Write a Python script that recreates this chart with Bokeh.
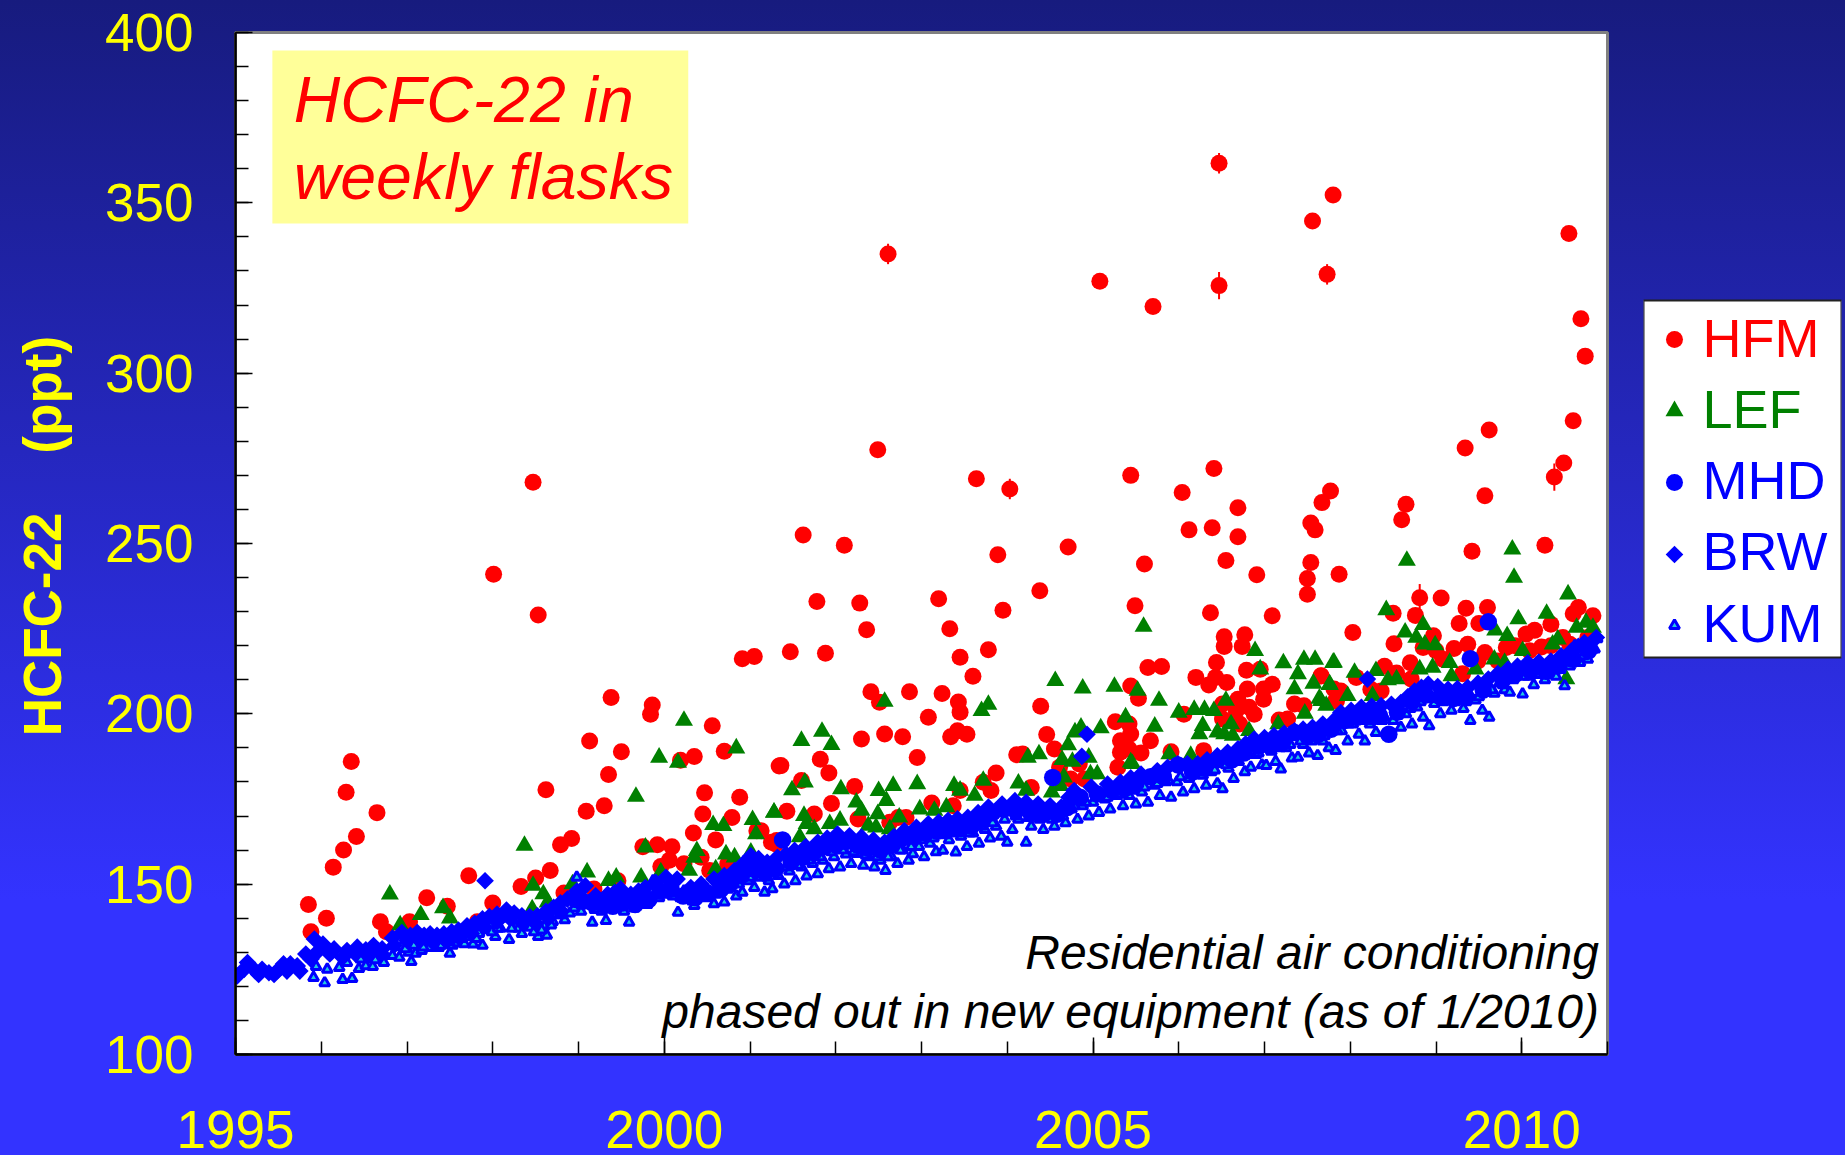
from math import pi
from bokeh.plotting import figure
from bokeh.embed import file_html
from bokeh.resources import INLINE
from bokeh.layouts import row
from bokeh.models import Range1d, FixedTicker, BoxAnnotation, Label, ColumnDataSource
from bokeh.core.properties import value

FONT = "Liberation Sans"
y_ticks = [100, 150, 200, 250, 300, 350, 400]
x_ticks = [1995, 2000, 2005, 2010]
y_title = "\u00a0HCFC-22\u00a0\u00a0\u00a0\u00a0(ppt)"
box_lines = ["HCFC-22 in", "weekly flasks"]
note_lines = ["Residential air conditioning", "phased out in new equipment (as of 1/2010)"]
legend_names = ["HFM", "LEF", "MHD", "BRW", "KUM"]

hfm = [(1995.85,144),(1995.88,136),(1996.06,140),(1996.14,155),(1996.26,160),(1996.29,177),(1996.35,186),(1996.41,164),
(1996.65,171),(1996.69,139),(1996.76,136),(1997.03,139),(1997.23,146),(1997.47,143.5),(1997.72,152.5),(1997.82,139),
(1998.01,241),(1998.47,268),(1998.53,229),(1998.0,144.5),(1998.33,149.3),(1998.5,151.8),(1998.62,177.7),(1998.67,154),
(1998.79,161.6),(1998.92,163.4),(1998.83,147.4),(1999.09,171.4),(1999.13,192),(1999.3,173),(1999.35,182.2),(1999.38,204.8),
(1999.5,188.9),(1999.18,148.6),(1999.46,151),(1999.75,161),(1999.92,161.6),(2000.09,161),(1999.84,199.9),(1999.86,202.6),
(2000.06,157),(1999.96,155.2),(2000.19,186.4),(2000.35,187.5),(2000.34,165),(2000.23,156),(2000.43,157.9),(2000.45,170.6),
(2000.47,176.8),(2000.56,196.5),(2000.6,163),(2000.7,189),(2000.79,169.6),(2000.88,175.5),(2000.53,154),(2001.05,216.8),
(2000.91,216.2),(2001.34,184.7),(2001.08,165.7),(2001.3,161.8),(2000.74,155.9),
(2001.78,233),(2002.28,232.5),(2002.36,224.7),(2001.47,218.2),(2001.88,217.8),(2001.36,184.8),(2001.82,186.7),(2001.92,182.6),
(2001.6,180.4),(2002.22,178.7),(2001.95,173.7),(2001.43,171.4),(2001.75,170.6),(2001.25,162.3),(2002.26,169.1),(2002.41,206.5),
(2002.51,203.4),(2002.3,192.6),(2002.57,194.1),(2002.78,193.3),(2002.95,187.2),(2002.86,206.5),(2003.08,199),(2003.2,233.8),
(2003.33,225),(2003.45,216.6),(2003.6,211),(2003.24,206),(2003.43,203.5),(2003.45,200.5),(2003.34,193.3),(2003.42,195),
(2003.53,194),(2003.78,218.8),(2003.95,230.4),(2004.38,236.1),(2004.39,202.2),(2004.46,193.9),(2004.55,189.7),(2004.11,188),
(2004.18,188.2),(2003.87,182.6),(2003.12,173.8),(2003.45,177.5),(2003.72,179.9),(2003.81,177.5),(2004.28,178.4),(2002.73,169.6),
(2002.82,169.6),(2002.63,168.2),(2003.37,173),(2001.13,165.7),(2001.31,162.8),(2004.61,184.3),
(2001.62,252.5),(2002.1,249.5),(2002.49,277.5),(2002.61,335),(2003.64,269),(2003.89,246.7),(2004.03,266),(2004.71,249),
(2005.08,327),(2005.44,270),(2005.6,244),(2005.7,319.6),(2006.04,265),(2006.12,254),(2006.39,254.6),(2006.41,272),
(2006.47,361.6),(2006.47,325.7),(2006.55,245),(2006.69,260.5),(2006.69,252),(2007.54,256),(2007.56,344.7),(2007.59,254),
(2007.67,262),(2007.73,329),(2007.77,265.4),(2007.8,352.3),(2007.87,241),(2008.6,257),(2008.65,261.5),(2009.34,278),
(2009.42,247.7),(2009.57,264),(2009.62,283.3),(2010.27,249.5),(2010.38,269.5),(2010.49,273.6),(2010.55,341),(2010.6,286),
(2010.69,316),(2010.74,305),(2005.49,231.7),(2006.91,240.8),(2007.54,244.4),(2007.5,239.7),(2007.5,235.1),(2006.37,229.7),
(2007.09,228.8),(2006.53,222.6),(2006.53,219.8),(2006.77,223.2),(2006.74,219.8),(2006.44,215.1),(2006.2,210.7),(2006.43,210.7),
(2006.35,208.5),(2006.56,209.2),(2005.64,213.6),(2005.8,213.9),(2006.79,212.8),(2006.95,213.1),(2007.09,208.7),(2006.99,207.3),
(2006.99,204.3),(2006.8,207.3),(2006.69,204.3),(2006.82,201.9),(2006.88,199.9),(2006.67,200.9),(2006.51,202.9),(2006.51,198.5),
(2006.71,197),(2005.44,208.2),(2005.53,204.6),(2005.26,197.7),(2005.42,197),(2005.44,194.1),(2005.32,192.1),(2005.32,188.7),
(2005.42,189.7),(2005.56,188.5),(2005.67,192.1),(2005.91,188.9),(2005.29,184.3),(2006.06,199.9),(2006.29,189.2),(2007.17,198.2),
(2007.27,198.5),(2007.35,202.9),(2007.46,202.4),(2007.66,211.2),(2007.81,207.3),(2007.83,203.9),(2004.74,180.9),(2004.9,180.9),
(2004.84,185.3),(2008.5,229.5),(2008.81,234.1),(2009.06,234),(2008.76,228.9),(2009.35,231),(2009.6,231.2),(2009.27,226.5),
(2009.5,226.5),(2008.03,223.9),(2008.51,220.6),(2008.97,222.9),(2010.66,231.2),(2010.6,229.4),(2010.83,228.8),(2010.05,223.4),
(2010.15,224.5),(2010.34,226.3),(2009.37,220.4),(2009.21,219.2),(2008.85,219.5),(2009.0,218.5),(2009.57,218),(2009.82,219.5),
(2009.92,220),(2010.23,219.6),(2010.48,222.4),(2010.56,220.4),(2008.7,215),(2008.4,214),(2008.54,212),(2009.31,211.8),
(2009.08,216),(2009.49,215.5),(2009.72,215.5),(2007.66,211.1),(2008.07,210.7),(2007.89,206.7),(2007.84,203.8),(2008.24,207.2),
(2008.36,206.7),(2008.71,210.2),(2010.09,218.5),(2010.34,220),(2010.77,222.4)]
hfm_year = [a for a, _ in hfm]
hfm_ppt = [b for _, b in hfm]

# HFM samples with a visible error whisker
err_year = [2002.61, 2003.89, 2004.03, 2006.47, 2006.47, 2007.73, 2008.81, 2010.38]
err_ppt = [335, 246.7, 266, 361.6, 325.7, 329, 234.1, 269.5]
err_half = [3, 2, 3, 3, 4, 3, 4, 4]

lef = [(1996.8,147),(1996.92,138),(1997.16,141),(1997.42,143),(1997.5,140),(1998.37,161.3),(1998.47,149.6),(1998.59,147.1),
(1998.64,144.7),(1998.46,142.7),(1999.1,153.5),(1998.93,150),(1999.35,151),(1999.44,152),(1999.73,152),(1999.67,175.7),
(1999.94,187.2),(2000.16,185.7),(2000.23,198),(1999.78,160.8),(2000.38,159.8),(2000.35,157.8),(2000.57,167.4),(2000.69,167.1),
(2000.84,189.9),(2000.72,158.8),(2001.03,168.9),(2001.07,164.7),(2001.28,171),(2000.82,157.9),(2001.01,159.3),(2000.6,154.4),
(2000.29,154),(1999.96,153.5),(2001.6,192.1),(2001.84,194.8),(2001.95,190.9),(2001.49,177.6),(2001.64,179.9),(2002.06,177.9),
(2001.28,171.1),(2001.63,170.1),(2001.66,167.7),(2001.75,166.2),(2001.93,167.7),(2002.05,168.7),(2002.24,174),(2002.3,171.6),
(2002.5,177.4),(2002.67,178.9),(2002.59,174.5),(2002.49,170.6),(2002.38,167.2),(2002.47,166.7),(2002.63,166.2),(2002.74,169.6),
(2002.95,179.4),(2002.98,172),(2003.38,178.9),(2003.45,177.5),(2003.62,176),(2003.72,180.4),(2002.57,203.6),(2003.7,200.9),
(2003.78,202.7),(2004.56,209.7),(2004.24,187.2),(2004.37,188.2),(2004.13,179.6),(2004.22,177.5),(2004.52,177),(2003.29,172.6),
(2003.15,171.6),(2001.58,163.8),(2004.88,207.5),(2005.25,208),(2005.52,206.8),(2005.59,225.6),(2005.77,203.9),(2005.38,199),
(2005.72,196.3),(2005.09,195.8),(2004.79,194.6),(2004.86,196),(2004.71,190.8),(2004.64,186.5),(2004.76,186),(2004.95,187.2),
(2005.44,185.8),(2005.05,182.3),(2004.97,182.3),(2004.66,181.4),(2004.62,178.9),(2006.89,218.5),(2006.95,213.1),(2007.22,214.9),
(2007.46,215.9),(2007.59,215.9),(2007.81,215.1),(2007.39,211.7),(2007.35,207.3),(2007.57,208.9),(2007.76,208.5),(2007.64,204.5),
(2007.72,202.4),(2007.47,200.1),(2007.16,197),(2006.0,200.4),(2006.18,201.2),(2006.3,201.2),(2006.41,200.9),(2006.55,203.9),
(2006.28,196.5),(2006.24,194.1),(2006.45,194.6),(2006.61,197),(2006.53,194.1),(2006.63,193.6),(2006.82,195),(2006.14,187.7),
(2005.89,188.2),(2005.46,185.3),(2008.66,245),(2009.89,248.3),(2009.91,240),(2010.54,235.1),(2008.42,230.5),(2008.85,226.1),
(2008.64,223.9),(2008.77,222.4),(2008.87,220.4),(2008.99,220.2),(2009.69,224.5),(2009.83,222.9),(2009.96,227.8),(2010.29,229.4),
(2010.75,226.8),(2010.64,225.3),(2010.83,225.3),(2010.42,221.9),(2010.36,220.4),(2010.01,218.5),(2009.68,216),(2009.16,215),
(2008.96,213.6),(2008.81,213.1),(2008.3,212.6),(2008.54,210.2),(2008.44,209.9),(2008.05,212.1),(2007.8,215),(2007.76,208.7),
(2007.97,205.3),(2008.26,205.3),(2007.66,203.8),(2009.18,211.1),(2009.46,213.1),(2009.8,215),(2010.52,210.2)]
lef_year = [a for a, _ in lef]
lef_ppt = [b for _, b in lef]

kum = [(1995.91,122.6),(1995.94,125.8),(1996.04,121),(1996.07,125),(1996.21,125.5),(1996.25,122),(1996.3,127),(1996.36,122.3),
(1996.44,125.2),(1996.46,128),(1996.52,126),(1996.6,125.8),(1996.63,127.8),(1996.73,127),(1996.75,129),(1996.83,129),(1996.91,128.5),
(1996.94,131.7),(1997.02,130),(1997.05,127.3),(1997.1,129.7),(1997.17,130.5),(1997.26,131.4),(1997.37,131.4),(1997.43,133.7),
(1997.5,129.7),(1997.53,132),(1997.59,132.8),(1997.67,132.5),(1997.77,132.4),(1997.84,135.5),(1997.88,132),(1997.92,136.8),
(1997.97,138),(1998.03,134.6),(1998.09,137),(1998.15,140),(1998.19,133.7),(1998.27,137.6),(1998.3,137),(1998.38,137.6),
(1998.44,137.3),(1998.53,134.6),(1998.6,137.6),(1998.63,135),(1998.7,139),(1998.73,143),(1998.78,141),(1998.84,139.5),
(1998.9,141.5),(1998.98,152),(1999.03,142),(1999.1,145),(1999.16,138.8),(1999.23,143.5),(1999.32,139.3),(1999.37,145),
(1999.47,145),(1999.53,142),(1999.59,138.8),(1999.65,143),(1999.72,146),(1999.77,147),(1999.8,144),(1999.87,151),(1999.94,146),
(2000.03,148),(2000.1,146.5),(2000.16,141.7),(2000.23,148),(2000.29,146),(2000.35,143.7),(2000.42,148),(2000.5,146),(2000.58,144.2),
(2000.63,147.5),(2000.7,144.7),(2000.77,149),(2000.84,146.5),(2000.91,147.6),(2000.98,151),(2001.05,149),(2001.12,152),(2001.17,147.6),
(2001.22,151),(2001.26,148.6),(2001.33,152.5),(2001.4,150),(2001.46,153.8),(2001.53,151),(2001.6,155),(2001.66,152.4),(2001.73,156),
(2001.79,153),(2001.85,157),(2001.92,154.5),(2001.98,158),(2002.05,155),(2002.12,158.8),(2002.18,156),(2002.25,159),(2002.32,155.5),
(2002.38,158),(2002.45,155),(2002.52,157),(2002.58,154),(2002.65,158),(2002.72,156),(2002.78,160),(2002.85,157),(2002.9,158.9),
(2002.97,161),(2003.03,158),(2003.1,162),(2003.17,159.5),(2003.25,159.9),(2003.32,163),(2003.4,159.4),(2003.46,164),(2003.53,161),
(2003.6,165),(2003.67,162),(2003.74,166),(2003.8,163.5),(2003.87,167),(2003.93,164),(2004.0,162.3),(2004.06,166),(2004.13,169),
(2004.22,162.3),(2004.28,167),(2004.35,170),(2004.42,166),(2004.48,170),(2004.55,167),(2004.62,171),(2004.68,168),(2004.75,172),
(2004.82,169),(2004.88,173),(2004.95,170),(2005.0,174),(2005.07,171),(2005.14,175),(2005.2,172),(2005.28,176),(2005.35,173),
(2005.42,176),(2005.5,173.5),(2005.57,177),(2005.64,174),(2005.72,179),(2005.78,176),(2005.85,180),(2005.91,175.5),(2005.98,180),
(2006.05,177),(2006.12,181),(2006.18,178),(2006.25,182),(2006.32,179),(2006.38,183),(2006.45,179.5),(2006.51,178),(2006.58,184),
(2006.64,181),(2006.7,186),(2006.77,183),(2006.84,184.3),(2006.9,188),(2006.97,185),(2007.02,184.8),(2007.08,189),(2007.13,186),
(2007.19,183.8),(2007.25,190),(2007.32,187),(2007.39,187.2),(2007.45,191),(2007.52,188.5),(2007.62,187.7),(2007.68,192),(2007.75,190),
(2007.83,189.2),(2007.9,195),(2007.97,192),(2008.03,197),(2008.1,194),(2008.17,192),(2008.23,197),(2008.3,194.5),(2008.37,198),
(2008.44,194.5),(2008.5,198),(2008.59,196),(2008.65,200),(2008.72,197),(2008.78,202),(2008.85,199),(2008.92,196.5),(2008.98,203),
(2009.05,200),(2009.12,204),(2009.18,201),(2009.25,205),(2009.32,201.5),(2009.4,198),(2009.46,204),(2009.54,201),(2009.62,199),
(2009.68,206),(2009.74,209),(2009.8,207),(2009.86,206.3),(2009.93,211),(2010.01,205.8),(2010.07,211),(2010.14,208.5),(2010.2,213),
(2010.27,210),(2010.34,214),(2010.4,211),(2010.46,215),(2010.5,208.2),(2010.56,214),(2010.62,220),(2010.68,215),(2010.77,216),
(2010.83,219),(2010.88,222),
(1996.98,131),(1997.08,132),(1997.19,131.5),(1997.31,133),(1997.4,132),(1997.48,133),(1997.63,134),(1997.73,134.5),(1997.81,134),(1997.99,136),
(1998.06,137),(1998.22,137),(1998.34,135.5),(1998.48,136),(1998.57,136.5),(1998.68,138),(1998.81,141),(1998.95,143),(1999.06,144),(1999.19,142.5),
(1999.27,142),(1999.42,143),(1999.56,144),(1999.69,144),(1999.84,146),(1999.98,147),(2000.07,148),(2000.19,146),(2000.33,145),(2000.46,146.5),
(2000.6,147),(2000.74,148.5),(2000.87,150),(2001.0,152),(2001.09,153),(2001.2,152),(2001.3,153.5),(2001.43,155),(2001.56,155.5),(2001.69,157),
(2001.82,158),(2001.95,159.5),(2002.08,160),(2002.21,159.5),(2002.35,158.5),(2002.48,158),(2002.61,158),(2002.75,160),(2002.88,161),(2003.0,163),
(2003.14,163.5),(2003.28,164.5),(2003.42,165),(2003.56,165),(2003.7,167),(2003.83,168),(2003.97,169),(2004.1,170),(2004.25,169.5),(2004.38,169),
(2004.52,169),(2004.65,170),(2004.78,173),(2004.92,174),(2005.04,175.5),(2005.17,175.5),(2005.3,176.5),(2005.45,177.5),(2005.6,178.5),(2005.75,179.5),
(2005.88,180.5),(2006.02,181.5),(2006.15,182),(2006.28,182),(2006.42,183.5),(2006.55,185),(2006.68,186),(2006.8,188),(2006.93,188.5),(2007.05,190),
(2007.18,190),(2007.3,191),(2007.42,192),(2007.55,192),(2007.7,193.5),(2007.85,195),(2007.98,197),(2008.12,198),(2008.25,198),(2008.4,199),
(2008.55,199.5),(2008.7,201.5),(2008.82,203.5),(2008.95,204.5),(2009.08,203.5),(2009.22,203.5),(2009.35,203.5),(2009.5,205),(2009.65,207),(2009.78,208.5),
(2009.9,210),(2010.03,211),(2010.18,211.5),(2010.32,212),(2010.45,213),(2010.6,215),(2010.72,217),(2010.85,219)]
kum_year = [a for a, _ in kum]
kum_ppt = [b for _, b in kum]

brw = [(1995.02,123.1),(1995.14,127),(1995.23,124.6),(1995.31,125),(1995.39,124),(1995.49,124.6),(1995.56,126.6),(1995.64,126.6),
(1995.72,126),(1995.82,129.5),(1995.92,133.9),(1996.02,132.4),(1996.15,131),(1996.3,130.5),(1996.42,131.5),(1996.52,130.7),
(1996.61,132),(1996.71,131),(1996.83,134.2),(1996.94,135.8),(1997.04,135),(1997.12,135.8),(1997.2,135),(1997.27,135.4),(1997.35,135),
(1997.43,135.4),(1997.52,136),(1997.6,136.5),(1997.7,137.8),(1997.79,138.5),(1997.88,139.8),(1997.96,140.5),(1998.05,141.2),(1998.16,142.4),
(1998.25,141.5),(1998.34,140.7),(1998.43,140.5),(1998.52,140.7),(1998.62,142),(1998.71,143.2),(1998.79,144.5),(1998.87,145.6),
(1998.98,148),(1999.08,149.5),(1999.2,146.6),(1999.34,147),(1999.42,147.5),(1999.49,148.6),(1999.61,147),(1999.7,148),(1999.78,149),
(1999.9,150.5),(2000.02,152),(2000.15,151.5),(2000.31,149),(2000.43,150),(2000.58,151.5),(2000.7,152.5),(2000.82,154),(2000.92,156),
(2001.01,158.3),(2001.1,157.5),(2001.2,156.4),(2001.32,157.9),(2001.42,158.8),(2001.52,159.9),(2001.65,161),(2001.79,162.3),(2001.9,163.5),
(2002.02,164.7),(2002.16,164.2),(2002.3,163.8),(2002.44,163),(2002.57,162.3),(2002.68,164),(2002.8,165.7),(2002.94,166.7),(2003.08,167.7),
(2003.2,168.2),(2003.31,168.7),(2003.42,169.2),(2003.54,169.6),(2003.66,171),(2003.78,172.6),(2003.94,173.5),(2004.09,174.5),(2004.22,174),
(2004.36,173.5),(2004.5,173),(2004.63,172.6),(2004.72,175.5),(2004.78,177.5),(2004.98,178.5),(2005.17,179.4),(2005.32,180),(2005.44,181.2),
(2005.56,182.3),(2005.75,183.3),(2005.87,184.3),(2005.99,185.3),(2006.1,185.3),(2006.22,185.3),(2006.33,186.5),(2006.45,187.7),(2006.57,188.7),
(2006.69,189.7),(2006.78,191.2),(2006.88,192.6),(2007.0,193),(2007.11,193.6),(2007.23,194.3),(2007.35,195),(2007.45,195.5),(2007.56,196),
(2007.68,197),(2007.81,198),(2007.89,200.4),(2008.01,201),(2008.13,201.9),(2008.25,202.2),(2008.36,202.4),(2008.48,202.8),(2008.59,203.3),
(2008.67,205),(2008.75,206.7),(2008.83,207.8),(2008.91,208.7),(2009.02,208),(2009.14,207.2),(2009.25,207.4),(2009.37,207.7),(2009.49,209),
(2009.61,210.2),(2009.72,211.8),(2009.84,213.1),(2009.95,214),(2010.07,215),(2010.2,215.2),(2010.34,215.5),(2010.46,217),(2010.58,218.5),
(2010.66,219.8),(2010.73,220.9),(2010.87,222.4),
(2004.87,187.5),(2004.93,194),(2008.2,210.2),(1997.91,151),
(1995.1,125),(1995.27,123.5),(1995.45,123.5),(1995.6,124.5),(1995.75,124.5),(1995.88,128),(1995.97,130.5),(1996.1,129.5),(1996.25,128.5),(1996.4,129.5),
(1996.55,129),(1996.7,129.5),(1996.85,132),(1997.0,133.5),(1997.15,133.5),(1997.3,133),(1997.45,133.5),(1997.6,134.5),(1997.75,135.5),(1997.9,137.5),
(1998.05,139),(1998.2,140),(1998.35,138.5),(1998.5,138.5),(1998.65,140),(1998.8,142)]
brw_year = [a for a, _ in brw]
brw_ppt = [b for _, b in brw]

mhd = [(1998.97,145.5),(1999.05,145),(1999.16,144.5),(1999.28,144),(1999.4,143.5),(1999.52,144.5),(1999.66,144),(1999.82,145.5),(1999.95,148),
(2000.08,148.5),(2000.22,146.5),(2000.36,146),(2000.5,147.5),(2000.66,148.5),(2000.78,150.5),(2000.9,152.5),(2001.04,154.5),(2001.17,153.5),(2001.3,154.5),
(2001.38,163),(2001.48,156.5),(2001.62,158),(2001.75,159.5),(2001.87,161),(2002.0,161.5),(2002.12,162.5),(2002.25,161.5),(2002.38,160.5),(2002.52,160),
(2002.66,161.5),(2002.78,163.5),(2002.92,164),(2003.05,165),(2003.18,165.5),(2003.3,166),(2003.44,166.5),(2003.58,167),(2003.7,169),
(2003.83,171),(2003.96,172),(2004.1,171.5),(2004.27,171),(2004.41,170.5),(2004.53,181.3),(2004.58,170.5),(2004.7,172.5),(2004.85,175.5),
(2005.05,176.5),(2005.22,177.5),(2005.37,178),(2005.5,179.5),(2005.67,181.5),(2005.82,181.5),(2005.99,185),(2006.16,183),(2006.3,184),
(2006.45,186.5),(2006.62,186.5),(2006.76,188.5),(2006.93,190.5),(2007.07,190.5),(2007.21,191.5),(2007.35,194.5),(2007.5,193.5),(2007.63,194),(2007.78,195.5),
(2007.93,198),(2008.08,199),(2008.22,199.5),(2008.34,199.5),(2008.45,194),(2008.55,200.5),(2008.72,203.5),(2008.88,205.5),(2009.05,205),(2009.2,204.5),
(2009.35,205),(2009.4,216.2),(2009.55,207),(2009.61,227),(2009.78,210),(2009.92,211.5),(2010.1,212.5),(2010.28,212.5),(2010.42,214),(2010.6,216),
(2010.78,218.5)]
mhd_year = [a for a, _ in mhd]
mhd_ppt = [b for _, b in mhd]

RED, GREEN, BLUE = "#ff0000", "#008000", "#0000ff"
CYAN = "#22c8e0"
YELLOW = "#ffff00"

p = figure(width=1640, height=1163, output_backend="svg", toolbar_location=None,
           x_range=Range1d(1995, 2011), y_range=Range1d(100, 400),
           min_border_left=235, min_border_right=33, min_border_top=32, min_border_bottom=109)
p.background_fill_color = "white"
p.border_fill_alpha = 0
p.outline_line_color = "#808080"
p.outline_line_width = 3
p.grid.visible = False

p.xaxis.ticker = FixedTicker(ticks=x_ticks, minor_ticks=list(range(1995, 2012)))
p.yaxis.ticker = FixedTicker(ticks=y_ticks, minor_ticks=list(range(100, 401, 10)))
for ax in (p.xaxis[0], p.yaxis[0]):
    ax.axis_line_color = "black"
    ax.axis_line_width = 2.5
    ax.major_tick_in = 17
    ax.major_tick_out = 0
    ax.minor_tick_in = 13
    ax.minor_tick_out = 0
    ax.major_tick_line_color = "black"
    ax.minor_tick_line_color = "black"
    ax.major_tick_line_width = 1.5
    ax.minor_tick_line_width = 1.5
    ax.major_label_text_color = YELLOW
    ax.major_label_text_font = FONT
    ax.major_label_text_font_size = "53px"
p.xaxis[0].major_label_standoff = 56
p.yaxis[0].major_label_standoff = 42
p.yaxis[0].axis_label = y_title
p.yaxis[0].axis_label_text_color = YELLOW
p.yaxis[0].axis_label_text_font = FONT
p.yaxis[0].axis_label_text_font_style = "bold"
p.yaxis[0].axis_label_text_font_size = "53px"
p.yaxis[0].axis_label_standoff = 30

p.add_layout(BoxAnnotation(left=1995.43, right=2000.28, bottom=343.9, top=394.7,
                           fill_color="#ffff99", fill_alpha=1, line_alpha=0, level="underlay"))
for txt, yy in zip(box_lines, [380.2, 357.5]):
    p.add_layout(Label(x=1995.68, y=yy, text=txt, text_color=RED, text_font=FONT,
                       text_font_style="italic", text_font_size="64.4px", text_baseline="alphabetic"))
for txt, yy in zip(note_lines, [130, 112.7]):
    p.add_layout(Label(x=2010.9, y=yy, text=txt, text_color="black", text_font=FONT, text_align="right",
                       text_font_style="italic", text_font_size="48px", text_baseline="alphabetic"))

p.segment(x0=err_year, x1=err_year,
          y0=[a - b for a, b in zip(err_ppt, err_half)],
          y1=[a + b for a, b in zip(err_ppt, err_half)],
          line_color=RED, line_width=2)
p.scatter(hfm_year, hfm_ppt, marker="circle", size=17, fill_color=RED, line_color=RED, line_width=0)
p.scatter(lef_year, lef_ppt, marker="triangle", size=18, fill_color=GREEN, line_color=GREEN, line_width=0)
p.scatter(kum_year, kum_ppt, marker="triangle", size=10, fill_color=CYAN, line_color=BLUE, line_width=3)
p.scatter(mhd_year, mhd_ppt, marker="circle", size=17.5, fill_color=BLUE, line_color=BLUE, line_width=0)
p.scatter(brw_year, brw_ppt, marker="square", angle=pi / 4, size=12.5, fill_color=BLUE, line_color=BLUE, line_width=0)

# legend panel: its plot area lines up with the chart's, the box is drawn inside it
leg = figure(width=205, height=1163, output_backend="svg", toolbar_location=None,
             x_range=Range1d(0, 198), y_range=Range1d(1022, 0),
             x_axis_location=None, y_axis_location=None,
             min_border_left=3, min_border_right=4, min_border_top=32, min_border_bottom=109)
leg.grid.visible = False
leg.background_fill_alpha = 0
leg.border_fill_alpha = 0
leg.outline_line_alpha = 0
leg.quad(left=[0], right=[198], top=[268], bottom=[625], fill_color="white", line_color="#222222", line_width=2)

TOP = 268
leg_colors = [RED, GREEN, BLUE, BLUE, BLUE]
src = ColumnDataSource(dict(name=legend_names, color=leg_colors,
                            tx=[59] * 5, ty=[TOP + 37 + 71.25 * i for i in range(5)]))
leg.text(x="tx", y="ty", text="name", text_color="color", text_font=value(FONT),
         text_font_size="54px", text_baseline="alphabetic", source=src)
leg.scatter([31], [TOP + 39], marker="circle", size=17, color=RED, line_width=0)
leg.scatter([31], [TOP + 110.5], marker="triangle", size=18, color=GREEN, line_width=0)
leg.scatter([31], [TOP + 182], marker="circle", size=17, color=BLUE, line_width=0)
leg.scatter([31], [TOP + 254], marker="square", angle=pi / 4, size=12.5, color=BLUE, line_width=0)
leg.scatter([31], [TOP + 325], marker="triangle", size=10, fill_color=CYAN, line_color=BLUE, line_width=3)

page = row(p, leg, spacing=0)
html = file_html(page, INLINE)
css = ("<style>html{height:100%;overflow:hidden;"
       "background:linear-gradient(180deg,#171b7e 0px,#3333ff 900px,#3333ff 1155px) no-repeat;}"
       "body{margin:0;background:transparent;}</style>")
html = html.replace("</head>", css + "</head>", 1)
open("out.html", "w").write(html)
